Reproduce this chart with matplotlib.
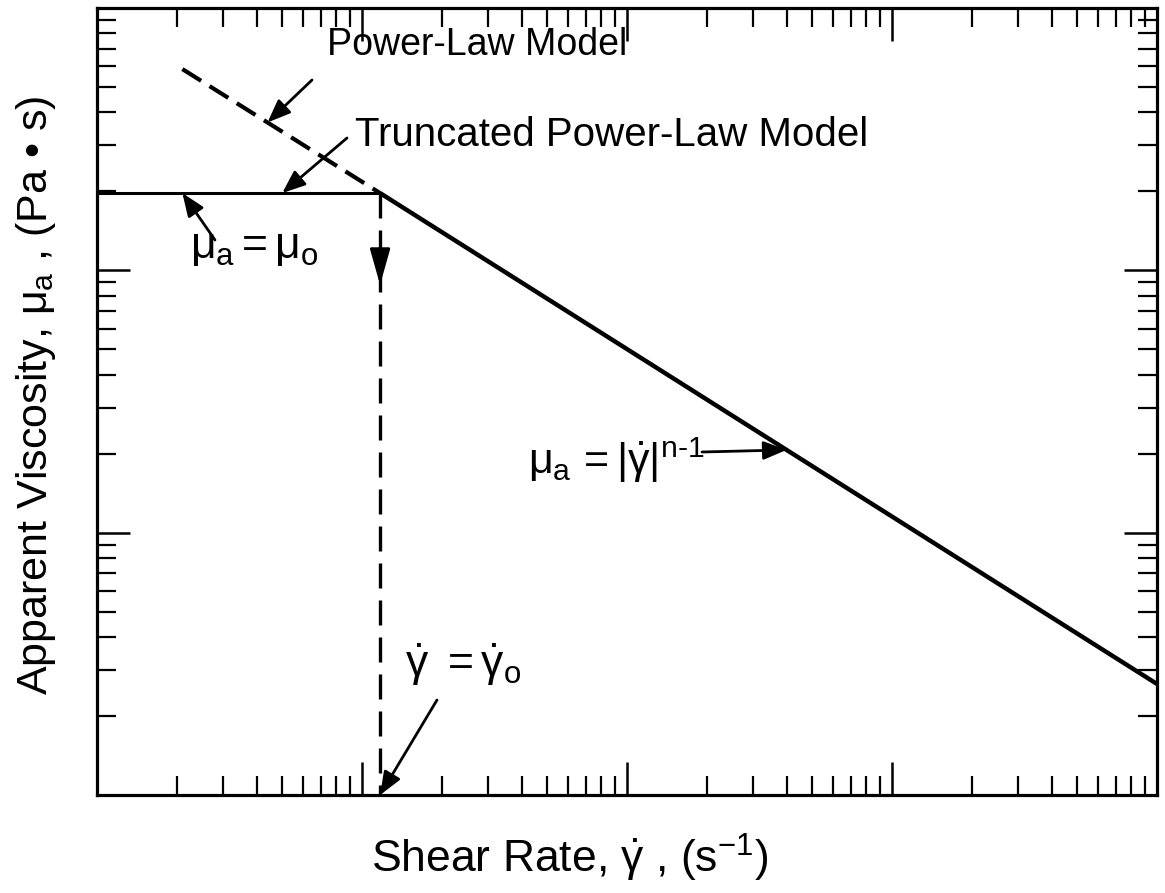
import numpy as np
import matplotlib

matplotlib.use("Agg")
import matplotlib.pyplot as plt

plt.rcParams["font.family"] = ["Liberation Sans", "DejaVu Sans"]
plt.rcParams["mathtext.fontset"] = "custom"
plt.rcParams["mathtext.rm"] = "Liberation Sans"
plt.rcParams["mathtext.it"] = "Liberation Sans"
plt.rcParams["mathtext.bf"] = "Liberation Sans:bold"

# shear rate where the power law is truncated, and the plateau viscosity
gamma0 = 11.7
mu0 = 197.0

# extrapolated power-law model (dashed)
shear_dashed = [2.1, gamma0]
visc_dashed = [585.0, mu0]

# power-law region (solid)
shear_power = [gamma0, 1.0e4]
visc_power = [mu0, 2.65]

# truncated plateau mu_a = mu_0
shear_trunc = [1.0, gamma0]
visc_trunc = [mu0, mu0]

# vertical marker at gamma_0
shear_vert = [gamma0, gamma0]
visc_vert = [mu0, 1.0]

# where the annotation arrows touch the curves (shear rate values)
pl_arrow_x = 4.4
trunc_arrow_x = 5.0
plateau_arrow_x = 2.1
power_arrow_x = 400.0
vert_arrow_y = (118.0, 88.0)


def on_line(xs, ys, x):
    """Value on a straight line in log-log space."""
    return 10 ** np.interp(np.log10(x), np.log10(xs), np.log10(ys))


def ref(px, py):
    """Reference-image pixel -> axes fraction."""
    return ((px - 97) / 1060.0, (795 - py) / 787.0)


fig = plt.figure(figsize=(11.65, 8.93), dpi=100)
ax = fig.add_axes([97 / 1165, 98 / 893, 1060 / 1165, 787 / 893])
ax.set_xscale("log")
ax.set_yscale("log")
ax.set_xlim(1, 1e4)
ax.set_ylim(1, 1e3)

ax.plot(shear_dashed, visc_dashed, color="black", lw=3, linestyle=(0, (5.3, 2.4)),
        solid_capstyle="butt", dash_capstyle="butt")
ax.plot(shear_power, visc_power, color="black", lw=3.2, solid_capstyle="butt")
ax.plot(shear_trunc, visc_trunc, color="black", lw=2.2)
ax.plot(shear_vert, visc_vert, color="black", lw=2.4, linestyle=(0, (7.5, 3.6)),
        dash_capstyle="butt")

for s in ax.spines.values():
    s.set_linewidth(2.3)
ax.tick_params(which="both", direction="in", top=True, right=True,
               labelbottom=False, labelleft=False, color="black")
ax.tick_params(which="major", length=24, width=1.8)
ax.tick_params(which="minor", length=14, width=1.6)

arrow = dict(arrowstyle="-|>,head_length=1.0,head_width=0.4", color="black",
             lw=2, mutation_scale=14, shrinkA=0, shrinkB=0)
tfs = 28

ax.text(*ref(327, 45), "Power-Law Model", transform=ax.transAxes,
        fontsize=27, ha="left", va="center")
ax.annotate("", xy=(pl_arrow_x, on_line(shear_dashed, visc_dashed, pl_arrow_x)),
            xytext=ref(312, 80), textcoords="axes fraction", arrowprops=arrow)

ax.text(*ref(355, 135), "Truncated Power-Law Model", transform=ax.transAxes,
        fontsize=29, ha="left", va="center")
ax.annotate("", xy=(trunc_arrow_x, mu0), xytext=ref(347, 138),
            textcoords="axes fraction", arrowprops=arrow)

ax.text(*ref(190, 248), r"$\mu_a = \mu_o$", transform=ax.transAxes,
        fontsize=32, ha="left", va="center")
ax.annotate("", xy=(plateau_arrow_x, mu0), xytext=ref(215, 240),
            textcoords="axes fraction", arrowprops=arrow)

ax.text(*ref(528, 460), r"$\mu_a\,=|\dot{\gamma}|^{n\text{-}1}$", transform=ax.transAxes,
        fontsize=31, ha="left", va="center")
ax.annotate("", xy=(power_arrow_x, on_line(shear_power, visc_power, power_arrow_x)),
            xytext=ref(702, 452), textcoords="axes fraction", arrowprops=arrow)

ax.text(*ref(405, 665), r"$\dot{\gamma}\ = \dot{\gamma}_o$", transform=ax.transAxes,
        fontsize=32, ha="left", va="center")
ax.annotate("", xy=(gamma0, 1.0), xytext=ref(437, 700),
            textcoords="axes fraction", arrowprops=arrow)

# arrow head on the vertical dashed line
ax.annotate("", xy=(gamma0, vert_arrow_y[1]), xytext=(gamma0, vert_arrow_y[0]),
            arrowprops=dict(arrowstyle="-|>,head_length=1.6,head_width=0.45",
                            color="black", lw=2, mutation_scale=14,
                            shrinkA=0, shrinkB=0))

ax.set_xlabel(r"Shear Rate, $\dot{\gamma}$ , (s$^{-1}$)", fontsize=32, va="center")
ax.xaxis.set_label_coords(*ref(570, 858))
ax.set_ylabel(r"Apparent Viscosity, $\mu_a$ , (Pa • s)", fontsize=31, va="center")
ax.yaxis.set_label_coords(*ref(36, 395))

fig.savefig("out.png", dpi=100)
